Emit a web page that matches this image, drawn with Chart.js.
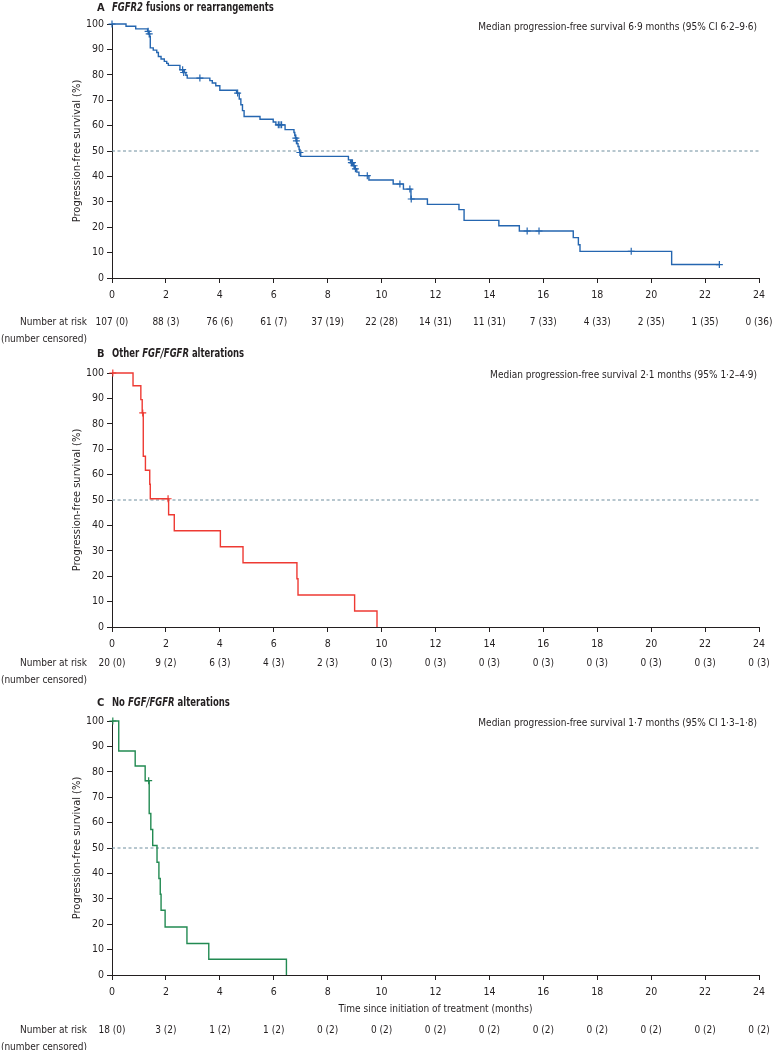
<!DOCTYPE html>
<html>
<head>
<meta charset="utf-8">
<script src="https://cdn.jsdelivr.net/npm/chart.js@4.4.1/dist/chart.umd.min.js"></script>
<style>
  body { margin: 0; background: #fff; }
  #wrap { position: relative; width: 772px; height: 1050px; }
  canvas { position: absolute; left: 0; }
</style>
</head>
<body>
<div id="wrap">
  <canvas id="chartA" width="772" height="350" style="top:0"></canvas>
  <canvas id="chartB" width="772" height="350" style="top:336px"></canvas>
  <canvas id="chartC" width="772" height="366" style="top:684px"></canvas>
</div>
<script>
const FONT = "'Liberation Sans Narrow', 'DejaVu Sans Condensed', 'Liberation Sans', sans-serif";
const INK = "#231f20";

// x axis ticks (months) shared by the three panels
const monthTicks = [0, 2, 4, 6, 8, 10, 12, 14, 16, 18, 20, 22, 24];

// A: FGFR2 fusions or rearrangements
const timeA = [0, 0.52, 0.88, 1.32, 1.36, 1.40, 1.42, 1.53, 1.66, 1.72, 1.82, 1.94, 2.03, 2.09, 2.52, 2.68, 2.74, 2.79, 3.63, 3.72,
    3.85, 4.00, 4.62, 4.72, 4.78, 4.84, 4.90, 5.49, 5.98, 6.08, 6.42, 6.75, 6.78, 6.80, 6.86, 6.90, 6.94, 6.96, 7.00, 8.77,
    8.85, 8.95, 9.00, 9.08, 9.16, 9.53, 10.43, 10.81, 11.09, 11.70, 12.87, 13.06, 14.35, 15.11, 17.11, 17.30, 17.36, 20.76, 22.53];
const survA = [100, 99.1, 98.1, 97.1, 96.1, 95.1, 90.6, 89.7, 88.8, 87.2, 86.2, 85.3, 84.5, 83.7, 82.0, 80.9, 79.8, 78.7, 77.7, 76.8,
    75.7, 73.9, 72.8, 70.5, 68.2, 65.9, 63.6, 62.5, 61.4, 60.3, 58.4, 57.3, 56.2, 55.1, 52.9, 51.8, 50.6, 49.4, 47.9, 46.5,
    45.4, 44.2, 43.0, 41.7, 40.3, 38.6, 37.0, 35.0, 31.1, 29.0, 26.9, 22.7, 20.6, 18.5, 15.9, 13.1, 10.5, 5.3, 5.3];
const censTimeA = [0, 1.34, 1.38, 2.62, 2.66, 3.26, 4.66, 6.17, 6.23, 6.29, 6.82, 6.84, 6.97, 8.88, 8.92, 8.98, 9.03, 9.47, 10.68, 11.05, 11.10, 15.40, 15.84, 19.26, 22.53];
const censSurvA = [100, 97.1, 96.1, 82.0, 80.9, 78.7, 72.8, 60.3, 60.3, 60.3, 55.1, 54.0, 49.4, 45.4, 45.4, 44.2, 43.0, 40.3, 37.0, 35.0, 31.1, 18.5, 18.5, 10.5, 5.3];
const riskA = [107, 88, 76, 61, 37, 22, 14, 11, 7, 4, 2, 1, 0];
const censoredA = [0, 3, 6, 7, 19, 28, 31, 31, 33, 33, 35, 35, 36];

// B: Other FGF/FGFR alterations
const timeB = [0, 0.78, 1.07, 1.12, 1.16, 1.24, 1.40, 1.42, 2.10, 2.31, 4.02, 4.86, 6.86, 6.90, 9.00, 9.83];
const survB = [100, 95, 89.5, 84.3, 67.2, 61.7, 56.2, 50.5, 44.2, 37.9, 31.6, 25.3, 19.0, 12.6, 6.3, 0];
const censTimeB = [0.03, 1.14, 2.08];
const censSurvB = [100, 84.3, 50.5];
const riskB = [20, 9, 6, 4, 2, 0, 0, 0, 0, 0, 0, 0, 0];
const censoredB = [0, 2, 3, 3, 3, 3, 3, 3, 3, 3, 3, 3, 3];

// C: No FGF/FGFR alterations
const timeC = [0, 0.25, 0.86, 1.23, 1.38, 1.44, 1.51, 1.67, 1.74, 1.79, 1.82, 1.97, 2.78, 3.59, 6.47];
const survC = [100, 88.2, 82.3, 76.5, 63.6, 57.3, 51.0, 44.4, 38.0, 31.8, 25.5, 18.9, 12.4, 6.2, 0];
const censTimeC = [0.03, 1.36];
const censSurvC = [100, 76.5];
const riskC = [18, 3, 1, 1, 0, 0, 0, 0, 0, 0, 0, 0, 0];
const censoredC = [0, 2, 2, 2, 2, 2, 2, 2, 2, 2, 2, 2, 2];

const toPoints = (xs, ys) => xs.map((x, i) => ({ x: x, y: ys[i] }));

// titles, median text, number at risk rows
const kmText = {
    id: "kmText",
    afterDraw(chart, args, opts) {
        const ctx = chart.ctx;
        const xs = chart.scales.x;
        ctx.save();
        ctx.fillStyle = INK;
        ctx.textBaseline = "middle";
        ctx.textAlign = "left";
        ctx.font = "bold 11px " + FONT;
        ctx.fillText(opts.letter, 97, opts.titleY);
        // the reference face is condensed, squeeze the bold title a bit
        ctx.save();
        ctx.translate(112, opts.titleY);
        ctx.scale(0.82, 1);
        let tx = 0;
        opts.title.forEach(part => {
            ctx.font = (part[1] ? "italic " : "") + "bold 11.5px " + FONT;
            ctx.fillText(part[0], tx, 0);
            tx += ctx.measureText(part[0]).width;
        });
        ctx.restore();
        ctx.font = "10px " + FONT;
        ctx.textAlign = "right";
        ctx.fillText(opts.median, 757, opts.medianY);
        ctx.fillText("Number at risk", 87, opts.riskY);
        ctx.fillText("(number censored)", 87, opts.riskY + 17);
        ctx.textAlign = "center";
        monthTicks.forEach((m, i) => {
            ctx.fillText(opts.atRisk[i] + " (" + opts.censored[i] + ")", xs.getPixelForValue(m), opts.riskY);
        });
        if (opts.axisTitle) {
            ctx.fillText(opts.axisTitle, (xs.left + xs.right) / 2, opts.axisTitleY);
        }
        ctx.restore();
    }
};

function makePanel(id, p) {
    new Chart(document.getElementById(id), {
        type: "line",
        data: {
            datasets: [
                {
                    data: toPoints(p.censTime, p.censSurv),
                    showLine: false,
                    pointStyle: "cross",
                    pointRadius: 3.5,
                    pointBorderWidth: 1.2,
                    pointBorderColor: p.color,
                    clip: 6,
                    order: 0
                },
                {
                    data: toPoints(p.time, p.surv),
                    stepped: true,
                    borderColor: p.color,
                    borderWidth: 1.4,
                    pointRadius: 0,
                    clip: 6,
                    order: 1
                },
                {
                    data: [{ x: 0, y: 50 }, { x: 24, y: 50 }],
                    borderColor: "#6f8e9e",
                    borderWidth: 1,
                    borderDash: [3, 2.5],
                    pointRadius: 0,
                    order: 2
                }
            ]
        },
        options: {
            responsive: false,
            animation: false,
            layout: { padding: { left: 0, right: 13, top: p.padTop, bottom: p.padBottom } },
            plugins: {
                legend: { display: false },
                tooltip: { enabled: false },
                kmText: p.text
            },
            scales: {
                x: {
                    type: "linear",
                    min: 0,
                    max: 24,
                    afterFit: s => { s.height = 26; },
                    ticks: { stepSize: 2, color: INK, padding: 6, font: { family: FONT, size: 10.5 } },
                    grid: { drawOnChartArea: false, tickLength: 5, color: INK },
                    border: { color: INK, width: 1 }
                },
                y: {
                    min: 0,
                    max: 100,
                    afterFit: s => { s.width = 112; },
                    ticks: { stepSize: 10, color: INK, padding: 3, font: { family: FONT, size: 10.5 } },
                    grid: { drawOnChartArea: false, tickLength: 5, color: INK },
                    border: { color: INK, width: 1 },
                    title: {
                        display: true,
                        text: "Progression-free survival (%)",
                        color: INK,
                        font: { family: FONT, size: 11 },
                        padding: { top: 71, bottom: 0 }
                    }
                }
            }
        },
        plugins: [kmText]
    });
}

makePanel("chartA", {
    color: "#2566b0", time: timeA, surv: survA, censTime: censTimeA, censSurv: censSurvA,
    padTop: 24, padBottom: 46,
    text: {
        letter: "A", title: [["FGFR2", true], [" fusions or rearrangements", false]], titleY: 8,
        median: "Median progression-free survival 6·9 months (95% CI 6·2–9·6)", medianY: 27,
        atRisk: riskA, censored: censoredA, riskY: 322
    }
});

makePanel("chartB", {
    color: "#ee3a33", time: timeB, surv: survB, censTime: censTimeB, censSurv: censSurvB,
    padTop: 37, padBottom: 33,
    text: {
        letter: "B", title: [["Other ", false], ["FGF/FGFR", true], [" alterations", false]], titleY: 18,
        median: "Median progression-free survival 2·1 months (95% 1·2–4·9)", medianY: 39,
        atRisk: riskB, censored: censoredB, riskY: 327
    }
});

makePanel("chartC", {
    color: "#228a52", time: timeC, surv: survC, censTime: censTimeC, censSurv: censSurvC,
    padTop: 37, padBottom: 49,
    text: {
        letter: "C", title: [["No ", false], ["FGF/FGFR", true], [" alterations", false]], titleY: 19,
        median: "Median progression-free survival 1·7 months (95% CI 1·3–1·8)", medianY: 39,
        atRisk: riskC, censored: censoredC, riskY: 346,
        axisTitle: "Time since initiation of treatment (months)", axisTitleY: 325
    }
});
</script>
</body>
</html>
